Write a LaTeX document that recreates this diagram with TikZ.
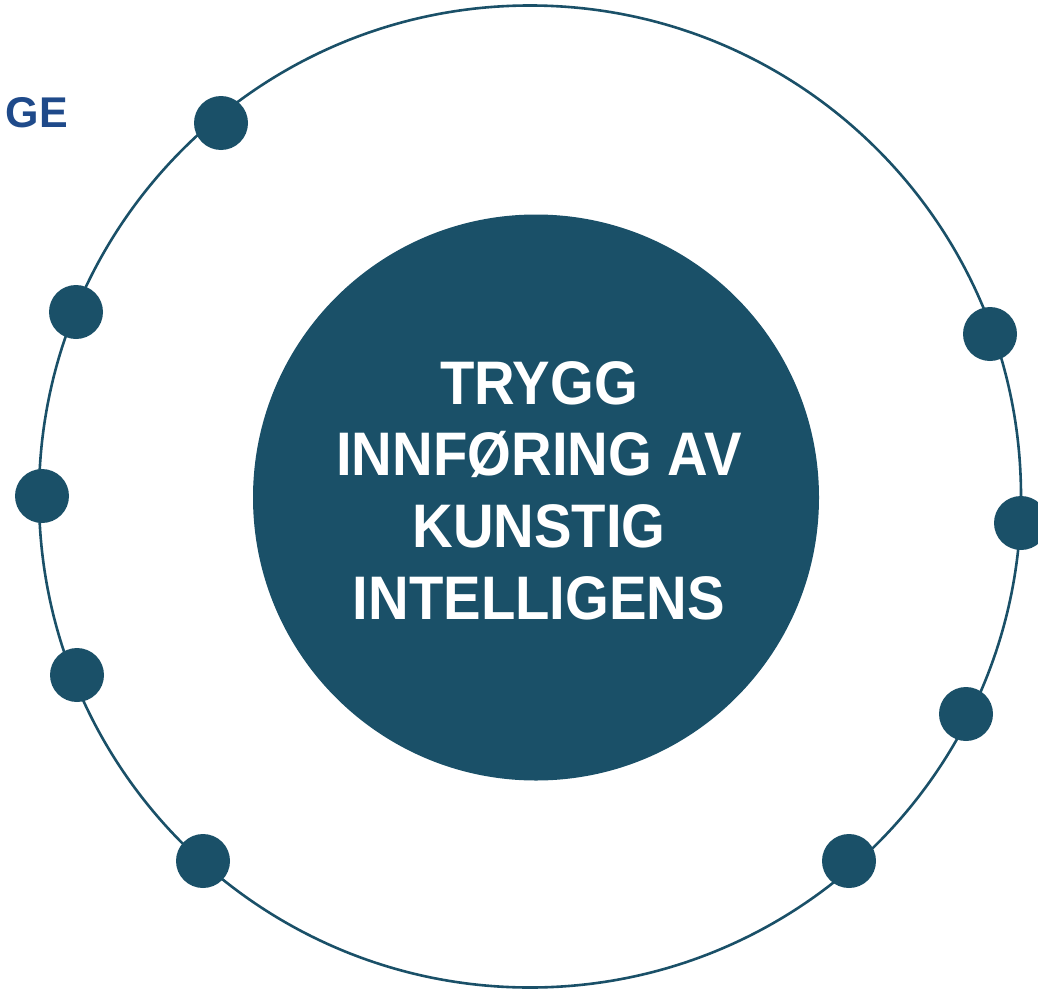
\documentclass[tikz,border=0pt]{standalone}
\usepackage{fontspec}
\setmainfont{Liberation Sans}
\newfontfamily\titlefont[FakeStretch=0.915]{Liberation Sans}
\definecolor{teal}{RGB}{26,80,104}
\definecolor{logoblue}{RGB}{31,74,138}
\tikzset{
  ring/.style={circle, draw=teal, line width=2.6pt, inner sep=0pt, outer sep=0pt, minimum size=982pt},
  core/.style={circle, fill=teal, inner sep=0pt, minimum size=566pt},
  dot/.style={circle, fill=teal, inner sep=0pt, minimum size=54pt},
  title/.style={text=white, align=center, font=\titlefont\bfseries\fontsize{61.5}{71.7}\selectfont},
  logo/.style={text=logoblue, font=\bfseries\fontsize{43}{43}\selectfont, inner sep=0pt}
}
\begin{document}
\begin{tikzpicture}[x=1pt, y=-1pt]
  \useasboundingbox (0,0) rectangle (1038,990);
  % fragment of the logo word at the top left
  \node[logo, anchor=base east] (logo) at (68,127) {GE};
  % outer orbit and central disc
  \node[ring] (orbit) at (530,496.5) {};
  \node[core] (core) at (536,497.5) {};
  \node[title] (label) at (539,490.5) {TRYGG\\INNFØRING AV\\KUNSTIG\\INTELLIGENS};
  % dots sitting on the orbit
  \foreach \x/\y/\n in {221/123/d1, 76/312/d2, 42/496/d3, 77/675/d4, 203/861/d5,
                        849/861/d6, 966/714/d7, 1021/523/d8, 990/334/d9}
    \node[dot] (\n) at (\x,\y) {};
\end{tikzpicture}
\end{document}
